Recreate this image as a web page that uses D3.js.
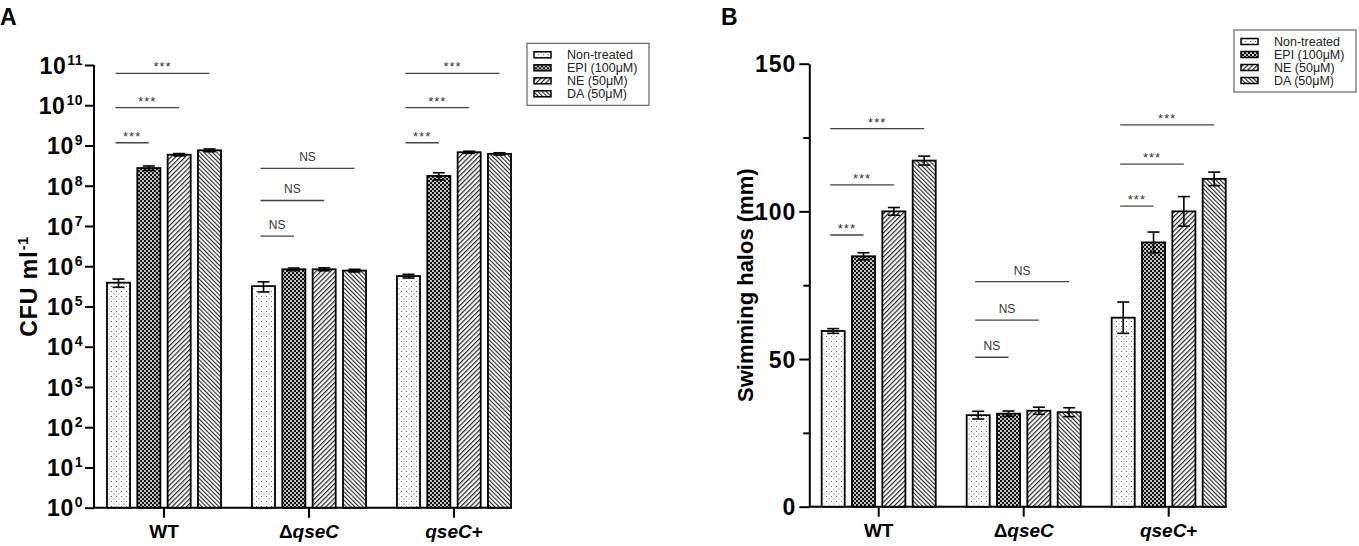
<!DOCTYPE html>
<html>
<head>
<meta charset="utf-8">
<script src="https://cdn.jsdelivr.net/npm/d3@7"></script>
<style>
  body { margin: 0; background: #fff; }
  svg { font-family: "Liberation Sans", Arial, sans-serif; }
  .axis path, .axis line { stroke: #000; stroke-width: 2; }
  .axis text { font-weight: bold; fill: #000; }
</style>
</head>
<body>
<div id="chart"></div>
<script>
// ---- data ----
const groups = ["WT", "ΔqseC", "qseC+"];
const treatments = ["Non-treated", "EPI (100μM)", "NE (50μM)", "DA (50μM)"];

// panel A: CFU ml-1 (log scale)
const cfuMean = [
    [3.9e5, 2.75e8, 5.9e8, 7.6e8],
    [3.2e5, 8.4e5, 8.4e5, 7.8e5],
    [5.7e5, 1.75e8, 6.8e8, 6.2e8]
];
const cfuErr = [
    [0.9e5, 0.35e8, 0.4e8, 0.6e8],
    [0.9e5, 0.6e5, 0.7e5, 0.6e5],
    [0.6e5, 0.35e8, 0.4e8, 0.4e8]
];
const cfuExponents = [0, 1, 2, 3, 4, 5, 6, 7, 8, 9, 10, 11];
// [group, from bar, to bar, level, label]
const cfuSig = [
    [0, 0, 1, 1.17e9, "***"], [0, 0, 2, 8.7e9, "***"], [0, 0, 3, 6.2e10, "***"],
    [1, 0, 1, 5.6e6, "NS"], [1, 0, 2, 4.3e7, "NS"], [1, 0, 3, 2.7e8, "NS"],
    [2, 0, 1, 1.17e9, "***"], [2, 0, 2, 8.7e9, "***"], [2, 0, 3, 6.2e10, "***"]
];

// panel B: swimming halos (mm)
const swimMean = [
    [59.5, 84.8, 100, 117.2],
    [31, 31.5, 32.5, 32],
    [64, 89.5, 100, 111]
];
const swimErr = [
    [0.8, 1.2, 1.3, 1.5],
    [1.3, 0.9, 1.2, 1.5],
    [5.3, 3.5, 5.0, 2.3]
];
const swimTicks = [0, 50, 100, 150];
const swimMinorTicks = [25, 75, 125];
const swimSig = [
    [0, 0, 1, 92, "***"], [0, 0, 2, 109, "***"], [0, 0, 3, 128, "***"],
    [1, 0, 1, 50.6, "NS"], [1, 0, 2, 63.2, "NS"], [1, 0, 3, 76.2, "NS"],
    [2, 0, 1, 101.8, "***"], [2, 0, 2, 116, "***"], [2, 0, 3, 129.3, "***"]
];

const W = 1359, H = 546;
const svg = d3.select("#chart").append("svg")
    .attr("width", W)
    .attr("height", H);

// ---- fill patterns ----
const defs = svg.append("defs");

const pDots = defs.append("pattern").attr("id", "pat0")
    .attr("patternUnits", "userSpaceOnUse").attr("width", 5).attr("height", 5);
pDots.append("rect").attr("width", 5).attr("height", 5).attr("fill", "#fff");
pDots.append("rect").attr("x", 1).attr("y", 1).attr("width", 1).attr("height", 1).attr("fill", "#666");
pDots.append("rect").attr("x", 3.5).attr("y", 3.5).attr("width", 1).attr("height", 1).attr("fill", "#888");

const pChk = defs.append("pattern").attr("id", "pat1")
    .attr("patternUnits", "userSpaceOnUse").attr("width", 4).attr("height", 4);
pChk.append("rect").attr("width", 4).attr("height", 4).attr("fill", "#c4c4c4");
pChk.append("rect").attr("width", 2).attr("height", 2).attr("fill", "#111");
pChk.append("rect").attr("x", 2).attr("y", 2).attr("width", 2).attr("height", 2).attr("fill", "#111");

function stripes(id, gap, angle, sw) {
    const p = defs.append("pattern").attr("id", id)
        .attr("patternUnits", "userSpaceOnUse")
        .attr("width", gap).attr("height", gap)
        .attr("patternTransform", `rotate(${angle})`);
    p.append("rect").attr("width", gap).attr("height", gap).attr("fill", "#fff");
    p.append("line").attr("x1", 0.6).attr("y1", 0).attr("x2", 0.6).attr("y2", gap)
        .attr("stroke", "#111").attr("stroke-width", sw);
}
stripes("pat2", 3.4, 45, 1.1);
stripes("pat3", 3.0, -45, 1.0);

// ---- shared bar layout ----
const x1 = d3.scaleBand()
    .domain(treatments)
    .range([0, 145])
    .paddingInner(0.24)
    .paddingOuter(0.51);

function drawPanel(opt) {
    const g = svg.append("g");
    const x0 = opt.x0, y = opt.y;
    const baseY = y.range()[0];
    const right = x0(groups[groups.length - 1]) + x1(treatments[3]) + x1.bandwidth() + 1;

    // x axis
    const xa = g.append("g")
        .attr("class", "axis")
        .attr("transform", `translate(0,${baseY})`)
        .call(d3.axisBottom(x0).tickSize(10).tickSizeOuter(0).tickPadding(7));
    xa.select(".domain").attr("d", `M${opt.axisX},0H${right}`);
    xa.selectAll(".tick text")
        .style("font-size", "19px")
        .each(function(d) {
            const t = d3.select(this).text("");
            if (d === "ΔqseC") {
                t.append("tspan").text("Δ");
                t.append("tspan").style("font-style", "italic").text("qseC");
            } else if (d === "qseC+") {
                t.append("tspan").style("font-style", "italic").text("qseC");
                t.append("tspan").text("+");
            } else {
                t.text(d);
            }
        });

    // y axis
    opt.yAxis(g);

    // bars
    groups.forEach((grp, gi) => {
        treatments.forEach((tr, ti) => {
            const v = opt.mean[gi][ti];
            const bx = x0(grp) + x1(tr);
            g.append("rect")
                .attr("x", bx)
                .attr("y", y(v))
                .attr("width", x1.bandwidth())
                .attr("height", baseY - y(v))
                .attr("fill", `url(#pat${ti})`)
                .attr("stroke", "#000")
                .attr("stroke-width", 1.8);

            // error bar
            const e = opt.err[gi][ti];
            const cx = bx + x1.bandwidth() / 2;
            const yt = y(v + e), yb = y(v - e);
            const eb = g.append("g").attr("stroke", "#000").attr("stroke-width", 1.6);
            eb.append("line").attr("x1", cx).attr("x2", cx).attr("y1", yt).attr("y2", yb);
            eb.append("line").attr("x1", cx - 6).attr("x2", cx + 6).attr("y1", yt).attr("y2", yt);
            eb.append("line").attr("x1", cx - 6).attr("x2", cx + 6).attr("y1", yb).attr("y2", yb);
        });
    });

    // significance brackets
    opt.sig.forEach(([gi, a, b, level, label]) => {
        const xs = x0(groups[gi]) + x1(treatments[a]) + x1.bandwidth() / 2 - 3;
        const xe = x0(groups[gi]) + x1(treatments[b]) + x1.bandwidth() / 2;
        const ly = y(level);
        g.append("line")
            .attr("x1", xs).attr("x2", xe)
            .attr("y1", ly).attr("y2", ly)
            .attr("stroke", "#444")
            .attr("stroke-width", 1.3);
        g.append("text")
            .attr("x", (xs + xe) / 2)
            .attr("y", label === "NS" ? ly - 7 : ly - 2)
            .attr("text-anchor", "middle")
            .style("font-size", label === "NS" ? "12px" : "13px")
            .style("letter-spacing", label === "NS" ? "0px" : "1px")
            .attr("fill", "#333")
            .text(label);
    });

    // legend
    const lg = g.append("g").attr("transform", `translate(${opt.legend[0]},${opt.legend[1]})`);
    lg.append("rect")
        .attr("width", 122).attr("height", 62)
        .attr("fill", "#fff")
        .attr("stroke", "#444")
        .attr("stroke-width", 1);
    treatments.forEach((tr, ti) => {
        const yy = 11.5 + ti * 13;
        lg.append("rect")
            .attr("x", 7).attr("y", yy - 3)
            .attr("width", 17).attr("height", 6)
            .attr("fill", `url(#pat${ti})`)
            .attr("stroke", "#000")
            .attr("stroke-width", 1.5);
        lg.append("text")
            .attr("x", 40).attr("y", yy + 4.5)
            .style("font-size", "12.5px")
            .attr("fill", "#222")
            .text(tr);
    });

    // y title
    opt.yTitle(g);

    // panel letter
    g.append("text")
        .attr("x", opt.letterX).attr("y", 25)
        .style("font-size", "23px")
        .style("font-weight", "bold")
        .text(opt.letter);
}

// ---- panel A ----
const xA = d3.scaleBand().domain(groups).range([91.5, 526.5]);
const yA = d3.scaleLog().domain([1, 1e11]).range([507.7, 65]);

drawPanel({
    x0: xA, y: yA, axisX: 94,
    mean: cfuMean, err: cfuErr, sig: cfuSig,
    legend: [527, 43.3], letter: "A", letterX: 0,
    yAxis: g => {
        const ya = g.append("g")
            .attr("class", "axis")
            .attr("transform", "translate(94,0)")
            .call(d3.axisLeft(yA)
                .tickValues(cfuExponents.map(e => Math.pow(10, e)))
                .tickSize(9).tickSizeOuter(0).tickPadding(2));
        ya.select(".domain").attr("d", `M0,${yA.range()[0]}V${yA.range()[1]}`);
        ya.selectAll(".tick text")
            .style("font-size", "23px")
            .style("letter-spacing", "0.5px")
            .attr("dy", "0.36em")
            .each(function(d, i) {
                const t = d3.select(this).text("10");
                t.append("tspan")
                    .attr("dy", "-9")
                    .attr("dx", "1")
                    .style("font-size", "14px")
                    .text(cfuExponents[i]);
            });
    },
    yTitle: g => {
        const t = g.append("text")
            .attr("transform", `translate(37,${(65 + 507.7) / 2}) rotate(-90)`)
            .attr("text-anchor", "middle")
            .style("font-size", "23px")
            .style("font-weight", "bold")
            .style("letter-spacing", "1px")
            .text("CFU ml");
        t.append("tspan").attr("dy", "-9").style("font-size", "14px").text("-1");
    }
});

// ---- panel B ----
const xB = d3.scaleBand().domain(groups).range([806.2, 1241.2]);
const yB = d3.scaleLinear().domain([0, 150]).range([506.7, 63.7]);

drawPanel({
    x0: xB, y: yB, axisX: 809.3,
    mean: swimMean, err: swimErr, sig: swimSig,
    legend: [1234, 30], letter: "B", letterX: 721,
    yAxis: g => {
        const ya = g.append("g")
            .attr("class", "axis")
            .attr("transform", "translate(809.3,0)")
            .call(d3.axisLeft(yB).tickValues(swimTicks).tickSize(10).tickSizeOuter(0).tickPadding(3));
        ya.selectAll(".tick text")
            .style("font-size", "23px")
            .style("letter-spacing", "1px")
            .attr("dy", "0.36em");
        g.append("g")
            .attr("class", "axis")
            .attr("transform", "translate(809.3,0)")
            .call(d3.axisLeft(yB).tickValues(swimMinorTicks).tickSize(6).tickSizeOuter(0).tickFormat(""))
            .select(".domain").remove();
    },
    yTitle: g => {
        g.append("text")
            .attr("transform", `translate(753,${(63.7 + 506.7) / 2}) rotate(-90)`)
            .attr("text-anchor", "middle")
            .style("font-size", "22px")
            .style("font-weight", "bold")
            .text("Swimming halos (mm)");
    }
});
</script>
</body>
</html>
